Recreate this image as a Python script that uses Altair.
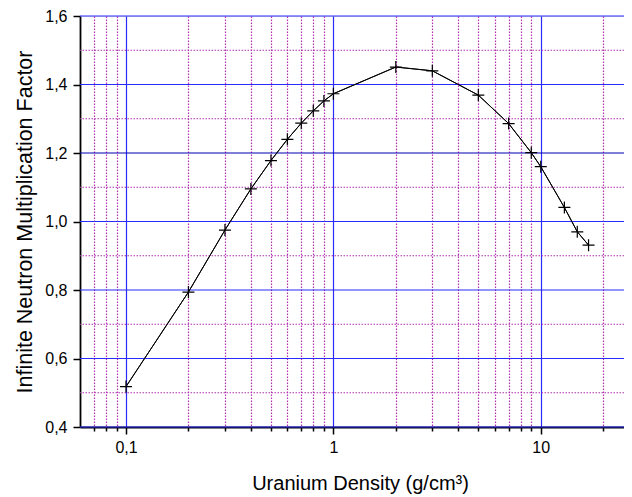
import altair as alt
import pandas as pd

density = [0.1, 0.2, 0.3, 0.4, 0.5, 0.6, 0.7, 0.8, 0.9, 1, 2, 3, 5, 7, 9, 10, 13, 15, 17]
kinf = [0.518, 0.794, 0.975, 1.095, 1.178, 1.240, 1.287, 1.323, 1.352, 1.373,
        1.451, 1.440, 1.369, 1.286, 1.201, 1.160, 1.041, 0.970, 0.931]

x_ticks = [0.07, 0.08, 0.09, 0.1, 0.2, 0.3, 0.4, 0.5, 0.6, 0.7, 0.8, 0.9,
           1, 2, 3, 4, 5, 6, 7, 8, 9, 10, 20]
y_ticks = [0.4, 0.5, 0.6, 0.7, 0.8, 0.9, 1.0, 1.1, 1.2, 1.3, 1.4, 1.5, 1.6]
y_major_ticks = [0.4, 0.6, 0.8, 1.0, 1.2, 1.4, 1.6]
y_minor_ticks = [0.5, 0.7, 0.9, 1.1, 1.3, 1.5]

df = pd.DataFrame({"d": density, "k": kinf})
df_ymaj = pd.DataFrame({"v": y_major_ticks})
df_ymin = pd.DataFrame({"v": y_minor_ticks})

FONT = "Liberation Sans"
x_major = "datum.value == 0.1 || datum.value == 1 || datum.value == 10"
y_major = "round(datum.value * 10) % 2 == 0"
MAJ = "#2a2aff"
MIN = "#b030b0"

x_axis = alt.Axis(
    values=x_ticks,
    labelExpr="datum.value == 0.1 ? '0,1' : datum.value == 1 ? '1' : datum.value == 10 ? '10' : ''",
    tickSize={"condition": {"test": x_major, "value": 7}, "value": 4},
    tickColor="black", tickWidth=1.5,
    domainColor="black", domainWidth=1.8,
    grid=True,
    gridColor={"condition": {"test": x_major, "value": MAJ}, "value": MIN},
    gridDash={"condition": {"test": x_major, "value": []}, "value": [1.5, 1.5]},
    gridWidth=1.2,
    labelFont=FONT, labelFontSize=16, labelColor="black", labelPadding=5,
    labelFlush=False, labelOverlap=False,
    title="Uranium Density (g/cm³)", titleFont=FONT, titleFontSize=20,
    titleFontWeight="normal", titleColor="black",
    titleX=280, titleY=62, titleBaseline="alphabetic", titleAlign="center",
)

y_axis = alt.Axis(
    values=y_ticks,
    labelExpr=f"{y_major} ? replace(format(datum.value, '.1f'), '.', ',') : ''",
    tickSize={"condition": {"test": y_major, "value": 7}, "value": 4},
    tickColor="black", tickWidth=1.5,
    domainColor="black", domainWidth=1.8,
    grid=False,
    labelFont=FONT, labelFontSize=16, labelColor="black", labelPadding=6,
    labelFlush=False, labelOverlap=False,
    title="Infinite Neutron Multiplication Factor", titleFont=FONT, titleFontSize=21.5,
    titleFontWeight="normal", titleColor="black", titlePadding=8,
)

xs = alt.X("d:Q", scale=alt.Scale(type="log", domain=[0.06, 25.2], nice=False), axis=x_axis)
ys = alt.Y("k:Q", scale=alt.Scale(domain=[0.4, 1.6], nice=False, zero=False), axis=y_axis)

grid_min = alt.Chart(df_ymin).mark_rule(color=MIN, strokeWidth=1.2, strokeDash=[1.5, 1.5]).encode(
    y=alt.Y("v:Q"))
grid_maj = alt.Chart(df_ymaj).mark_rule(strokeWidth=1.2).encode(
    y=alt.Y("v:Q"),
    color=alt.condition("abs(datum.v - 1.2) < 0.001", alt.value("#0000b0"), alt.value(MAJ)))

line = alt.Chart(df).mark_line(color="black", strokeWidth=1).encode(x=xs, y=ys)
pts = alt.Chart(df).mark_point(
    shape="M-1,0L1,0M0,-1L0,1", filled=False, color="black", size=144, strokeWidth=1.2, opacity=1
).encode(x="d:Q", y="k:Q")

chart = alt.layer(line, grid_min, grid_maj, line, pts).properties(
    width=544, height=411,
    autosize=alt.AutoSizeParams(type="none"),
    padding={"left": 72, "top": 8, "right": 0, "bottom": 70},
).configure_view(stroke=None).configure(background="white")

chart.save("out.html", embed_options={"renderer": "svg", "actions": False})
